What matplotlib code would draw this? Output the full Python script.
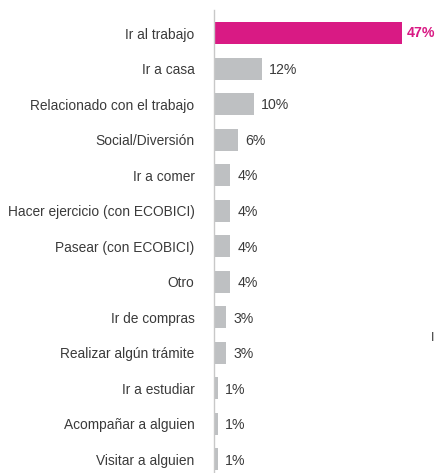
import matplotlib
matplotlib.use("Agg")
import matplotlib.pyplot as plt

# ---- DATA ----
categories = [
    "Ir al trabajo",
    "Ir a casa",
    "Relacionado con el trabajo",
    "Social/Diversión",
    "Ir a comer",
    "Hacer ejercicio (con ECOBICI)",
    "Pasear (con ECOBICI)",
    "Otro",
    "Ir de compras",
    "Realizar algún trámite",
    "Ir a estudiar",
    "Acompañar a alguien",
    "Visitar a alguien",
]
values = [47, 12, 10, 6, 4, 4, 4, 4, 3, 3, 1, 1, 1]

HIGHLIGHT = "#d91a84"
GRAY_BAR = "#bec0c2"
TEXT = "#3a3a3a"

plt.rcParams["font.family"] = ["Liberation Sans", "DejaVu Sans"]

fig = plt.figure(figsize=(4.38, 4.73), dpi=100)
fig.patch.set_facecolor("white")
ax = fig.add_axes([214 / 438, 0, 224 / 438, 463 / 473])

ypos = list(range(len(categories)))
colors = [HIGHLIGHT if i == 0 else GRAY_BAR for i in ypos]
ax.barh(ypos, values, height=0.62, color=colors, zorder=2)

# value labels
for i, v in enumerate(values):
    if i == 0:
        ax.text(v + 1.2, i, f"{v}%", va="center", ha="left",
                fontsize=10.2, color=HIGHLIGHT, fontweight="bold")
    else:
        ax.text(v + 1.8, i + 0.04, f"{v}%", va="center", ha="left",
                fontsize=10.2, color=TEXT)

ax.set_xlim(0, 56)
ax.set_ylim(12.39, -0.648)
ax.set_yticks(ypos)
ax.set_yticklabels(categories, fontsize=9.9, color=TEXT)
ax.tick_params(axis="y", length=0, pad=14)
ax.set_xticks([])

for side in ["top", "right", "bottom"]:
    ax.spines[side].set_visible(False)
ax.spines["left"].set_color("#c8c8c8")
ax.spines["left"].set_linewidth(1.0)

# partial text at the right edge
fig.text(431 / 438, 1 - 338 / 473, "I", fontsize=9, color=TEXT,
         ha="left", va="center")

fig.savefig("out.png", dpi=100, facecolor="white")
